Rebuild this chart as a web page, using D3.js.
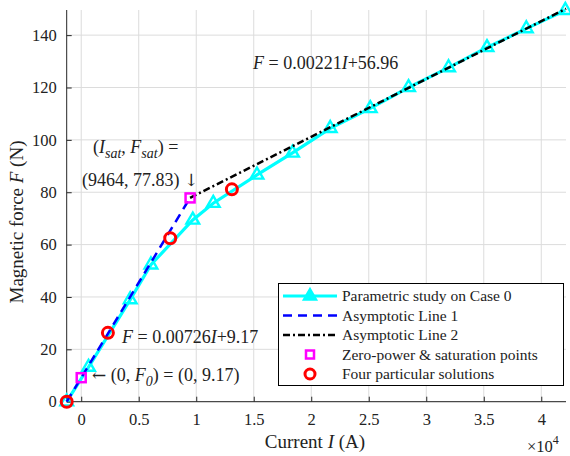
<!DOCTYPE html>
<html><head><meta charset="utf-8">
<script src="https://cdn.jsdelivr.net/npm/d3@7/dist/d3.min.js"></script>
<style>body{margin:0;background:#fff}svg{display:block;font-family:"Liberation Serif","Times New Roman",serif}</style>
</head><body><svg id="c" width="570" height="456"></svg>
<script>
// Data
const studyI = [-1263, 635, 4260, 6060, 9700, 11480, 15280, 18370, 21650, 25130, 28460, 31940, 35280, 38700, 42090];
const studyF = [0, 13.2, 39.0, 52.3, 69.4, 75.8, 86.6, 95.0, 104.4, 112.0, 120.0, 127.6, 135.3, 142.5, 149.5];
const line1I = [-1263, 9464];
const line1F = [0, 77.88];
const line2I = [9464, 42150];
const line2F = [77.88, 150.11];
const zeroPowI = [0, 9464];
const zeroPowF = [9.17, 77.83];
const partI = [-1263, 2320, 7740, 13100];
const partF = [0, 26.3, 62.4, 81.1];
const xTicks = [0, 5000, 10000, 15000, 20000, 25000, 30000, 35000, 40000];
const xTickLabels = ["0", "0.5", "1", "1.5", "2", "2.5", "3", "3.5", "4"];
const yTicks = [0, 20, 40, 60, 80, 100, 120, 140];
const legendLabels = ["Parametric study on Case 0", "Asymptotic Line 1", "Asymptotic Line 2", "Zero-power & saturation points", "Four particular solutions"];

const svg = d3.select("#c");
const L = 66.7, R = 566, T = 10, B = 401.7;
const x = d3.scaleLinear().domain([-1263, 42150]).range([L, R]);
const y = d3.scaleLinear().domain([0, 149.6]).range([B, T]);

// grid
const g = svg.append("g");
g.selectAll(".vg").data(xTicks).enter().append("line")
  .attr("x1", d => x(d)).attr("x2", d => x(d)).attr("y1", T).attr("y2", B)
  .attr("stroke", "#dcdcdc").attr("stroke-width", 1);
g.selectAll(".hg").data(yTicks).enter().append("line")
  .attr("x1", L).attr("x2", R).attr("y1", d => y(d)).attr("y2", d => y(d))
  .attr("stroke", "#dcdcdc").attr("stroke-width", 1);

// axes
const xAxis = d3.axisBottom(x).tickValues(xTicks).tickSizeInner(-5).tickSizeOuter(0)
  .tickPadding(12).tickFormat((d, i) => xTickLabels[i]);
const yAxis = d3.axisLeft(y).tickValues(yTicks).tickSizeInner(-5).tickSizeOuter(0).tickPadding(10);
const gx = svg.append("g").attr("transform", `translate(0,${B})`).call(xAxis);
const gy = svg.append("g").attr("transform", `translate(${L},0)`).call(yAxis);
[gx, gy].forEach(a => {
  a.selectAll("text").attr("font-size", 16.5).attr("fill", "#222").attr("font-family", "Liberation Serif");
  a.selectAll("line").attr("stroke", "#262626");
  a.select(".domain").attr("stroke", "#262626");
});
gy.select(".domain").attr("d", `M0,${B}V${T}`);
gx.select(".domain").attr("d", `M${L},0H${R}`);

// axis labels
svg.append("text").attr("x", 315).attr("y", 448).attr("text-anchor", "middle").attr("font-size", 19).attr("fill", "#222")
  .html('Current <tspan font-style="italic">I</tspan> (A)');
svg.append("text").attr("transform", "translate(23,222) rotate(-90)").attr("text-anchor", "middle").attr("font-size", 19).attr("fill", "#222")
  .html('Magnetic force <tspan font-style="italic">F</tspan> (N)');
svg.append("text").attr("x", 527).attr("y", 452).attr("font-size", 16.5).attr("fill", "#222")
  .html('×10<tspan dy="-8" font-size="12">4</tspan>');

// lines
const study = studyI.map((d, i) => [d, studyF[i]]);
const ln = d3.line().x(d => x(d[0])).y(d => y(d[1]));
svg.append("path").attr("d", ln(study)).attr("fill", "none").attr("stroke", "#00ffff").attr("stroke-width", 3.2);
const tri = d3.symbol().type(d3.symbolTriangle).size(70);
svg.selectAll(".tri").data(study).enter().append("path")
  .attr("d", tri).attr("transform", d => `translate(${x(d[0])},${y(d[1])})`)
  .attr("fill", "none").attr("stroke", "#00ffff").attr("stroke-width", 2.4);
svg.append("path").attr("d", ln(line1I.map((d, i) => [d, line1F[i]]))).attr("fill", "none")
  .attr("stroke", "#0000ff").attr("stroke-width", 2.5).attr("stroke-dasharray", "9,6");
svg.append("path").attr("d", ln(line2I.map((d, i) => [d, line2F[i]]))).attr("fill", "none")
  .attr("stroke", "#000").attr("stroke-width", 2.5).attr("stroke-dasharray", "7,3,2,3");
svg.selectAll(".sq").data(zeroPowI.map((d, i) => [d, zeroPowF[i]])).enter().append("rect")
  .attr("x", d => x(d[0]) - 4.5).attr("y", d => y(d[1]) - 4.5).attr("width", 9).attr("height", 9)
  .attr("fill", "none").attr("stroke", "#ff00ff").attr("stroke-width", 2.5);
svg.selectAll(".ci").data(partI.map((d, i) => [d, partF[i]])).enter().append("circle")
  .attr("cx", d => x(d[0])).attr("cy", d => y(d[1])).attr("r", 5.5)
  .attr("fill", "none").attr("stroke", "#ff0000").attr("stroke-width", 3);

// annotations
const ann = (px, py, html) => svg.append("text").attr("x", px).attr("y", py).attr("font-size", 18).attr("fill", "#222").html(html);
ann(253, 69, '<tspan font-style="italic">F</tspan> = 0.00221<tspan font-style="italic">I</tspan>+56.96');
ann(93, 153, '(<tspan font-style="italic">I</tspan><tspan font-style="italic" font-size="14" dy="5">sat</tspan><tspan dy="-5">, </tspan><tspan font-style="italic">F</tspan><tspan font-style="italic" font-size="14" dy="5">sat</tspan><tspan dy="-5">) =</tspan>');
ann(82, 186, '(9464, 77.83) <tspan font-family="DejaVu Serif" font-size="17">↓</tspan>');
ann(122, 343, '<tspan font-style="italic">F</tspan> = 0.00726<tspan font-style="italic">I</tspan>+9.17');
ann(92, 381, '<tspan font-family="DejaVu Serif" font-size="17">←</tspan> (0, <tspan font-style="italic">F</tspan><tspan font-style="italic" font-size="14" dy="5">0</tspan><tspan dy="-5">) = (0, 9.17)</tspan>');

// legend
const lg = svg.append("g");
lg.append("rect").attr("x", 278.5).attr("y", 283.5).attr("width", 285).attr("height", 102)
  .attr("fill", "#fff").attr("stroke", "#000").attr("stroke-width", 1);
const ly = i => 296 + i * 19.5;
legendLabels.forEach((t, i) => {
  lg.append("text").attr("x", 342).attr("y", ly(i) + 5).attr("font-size", 15.5).attr("fill", "#222").text(t);
});
lg.append("line").attr("x1", 283).attr("x2", 337).attr("y1", ly(0)).attr("y2", ly(0)).attr("stroke", "#00ffff").attr("stroke-width", 3.2);
lg.append("path").attr("d", tri).attr("transform", `translate(310,${ly(0)})`).attr("fill", "#00ffff").attr("stroke", "#00ffff").attr("stroke-width", 2);
lg.append("line").attr("x1", 283).attr("x2", 337).attr("y1", ly(1)).attr("y2", ly(1)).attr("stroke", "#0000ff").attr("stroke-width", 2.5).attr("stroke-dasharray", "9,6");
lg.append("line").attr("x1", 283).attr("x2", 337).attr("y1", ly(2)).attr("y2", ly(2)).attr("stroke", "#000").attr("stroke-width", 2.5).attr("stroke-dasharray", "7,3,2,3");
lg.append("rect").attr("x", 306).attr("y", ly(3) - 4).attr("width", 8).attr("height", 8).attr("fill", "none").attr("stroke", "#ff00ff").attr("stroke-width", 2.5);
lg.append("circle").attr("cx", 310).attr("cy", ly(4)).attr("r", 5).attr("fill", "none").attr("stroke", "#ff0000").attr("stroke-width", 3);
</script></body></html>
